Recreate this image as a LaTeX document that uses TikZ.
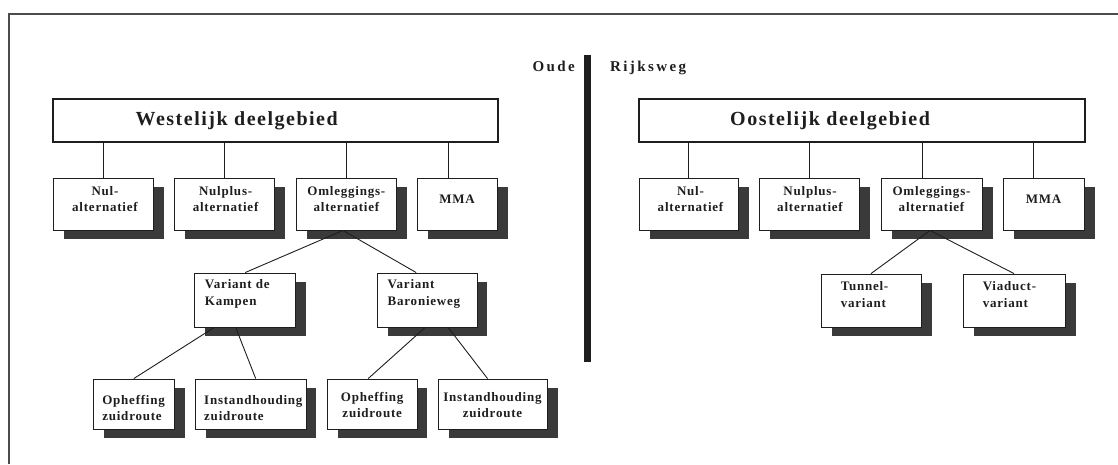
\documentclass[tikz,border=0pt]{standalone}
\usepackage{fontspec}
\usetikzlibrary{shadows}
\setmainfont{Liberation Serif}
\newfontfamily\headfont[LetterSpace=7.5]{Liberation Serif}
\newfontfamily\roadfont[LetterSpace=16]{Liberation Serif}
\newfontfamily\boxfont[LetterSpace=6]{Liberation Serif}
\definecolor{shadowgray}{HTML}{3A3A3A}
\definecolor{ink}{HTML}{1E1E1E}
\tikzset{
  titlebox/.style={draw=ink,line width=2.2pt,fill=white,inner sep=0pt},
  titletext/.style={font=\headfont\bfseries\fontsize{20}{22}\selectfont,text=ink,inner sep=0pt,anchor=base west},
  altbox/.style={draw=ink,line width=0.9pt,fill=white,inner sep=0pt,
    drop shadow={shadow xshift=10.5pt,shadow yshift=-9pt,fill=shadowgray,opacity=1}},
  txt/.style={font=\boxfont\bfseries\fontsize{13}{16.5}\selectfont,text=ink,inner sep=0pt,align=center},
  ltxt/.style={txt,align=left,anchor=west},
  link/.style={draw=ink,line width=0.9pt},
  roadlabel/.style={font=\roadfont\bfseries\fontsize{15}{17}\selectfont,text=ink,inner sep=0pt}
}
\begin{document}
\begin{tikzpicture}[x=1pt,y=-1pt]
\useasboundingbox (0,0) rectangle (1118,464);
% frame
\coordinate (fbl) at (9,464);
\coordinate (ftl) at (9,14);
\coordinate (ftr) at (1118,14);
\draw[draw=black!70,line width=1.2pt] (fbl) -- (ftl) -- (ftr);
% divider
\fill[ink] (584,55) rectangle (591,362);
\node[roadlabel,anchor=base east] (oude) at (575,71) {Oude};
\node[roadlabel,anchor=base west] (rijks) at (610,71) {Rijksweg};

% ---------------- west
\node[titlebox,minimum width=445pt,minimum height=43pt] (WT) at (275.5,120.5) {};
\node[titletext] (WTt) at (135.5,125) {Westelijk deelgebied};
\node[altbox,minimum width=100pt,minimum height=52pt] (w1) at (103,204) {};
\node[altbox,minimum width=100.5pt,minimum height=52pt] (w2) at (224.6,204) {};
\node[altbox,minimum width=100pt,minimum height=52pt] (w3) at (346.4,204) {};
\node[altbox,minimum width=80pt,minimum height=52pt] (w4) at (457,204) {};
\node[txt] (w1t) at ([xshift=2pt,yshift=5pt]w1.center) {Nul-\\alternatief};
\node[txt] (w2t) at ([xshift=1pt,yshift=5pt]w2.center) {Nulplus-\\alternatief};
\node[txt] (w3t) at ([yshift=5pt]w3.center) {Omleggings-\\alternatief};
\node[txt] (w4t) at ([yshift=5pt]w4.center) {MMA};

\node[altbox,minimum width=101pt,minimum height=54pt] (wk) at (245.2,300) {};
\node[altbox,minimum width=99.5pt,minimum height=54pt] (wb) at (427.2,300) {};
\node[ltxt] (wkt) at ([xshift=10.5pt,yshift=6pt]wk.west) {Variant de\\Kampen};
\node[ltxt] (wbt) at ([xshift=10.5pt,yshift=6pt]wb.west) {Variant\\Baronieweg};

\node[altbox,minimum width=80.5pt,minimum height=50pt] (o1) at (133.8,404) {};
\node[altbox,minimum width=110.5pt,minimum height=50pt] (i1) at (250.7,404) {};
\node[altbox,minimum width=89.5pt,minimum height=50pt] (o2) at (372.2,404) {};
\node[altbox,minimum width=109pt,minimum height=50pt] (i2) at (492.5,404) {};
\node[ltxt] (o1t) at ([xshift=9pt,yshift=-4pt]o1.west) {Opheffing\\zuidroute};
\node[ltxt] (i1t) at ([xshift=9pt,yshift=-4pt]i1.west) {Instandhouding\\zuidroute};
\node[txt] (o2t) at ([yshift=-1pt]o2.center) {Opheffing\\zuidroute};
\node[txt] (i2t) at ([yshift=-1pt]i2.center) {Instandhouding\\zuidroute};

\draw[link] (w1.north) -- (w1.north |- WT.south);
\draw[link] (w2.north) -- (w2.north |- WT.south);
\draw[link] (w3.north) -- (w3.north |- WT.south);
\draw[link] ([xshift=-9pt]w4.north) -- ([xshift=-9pt]w4.north |- WT.south);
\draw[link] ([xshift=-3.4pt]w3.south) -- (wk.north);
\draw[link] ([xshift=-3.4pt]w3.south) -- ([xshift=-11pt]wb.north);
\draw[link] ([xshift=-31pt]wk.south) -- (o1.north);
\draw[link] ([xshift=-9.5pt]wk.south) -- ([xshift=5pt]i1.north);
\draw[link] ([xshift=-2pt]wb.south) -- ([xshift=-4pt]o2.north);
\draw[link] ([xshift=21pt]wb.south) -- ([xshift=-5pt]i2.north);

% ---------------- east
\node[titlebox,minimum width=446pt,minimum height=43pt] (ET) at (862,120.5) {};
\node[titletext] (ETt) at (730,125) {Oostelijk deelgebied};
\node[altbox,minimum width=99pt,minimum height=52pt] (e1) at (688.5,204) {};
\node[altbox,minimum width=100pt,minimum height=52pt] (e2) at (809,204) {};
\node[altbox,minimum width=101pt,minimum height=52pt] (e3) at (931.5,204) {};
\node[altbox,minimum width=81pt,minimum height=52pt] (e4) at (1043.5,204) {};
\node[txt] (e1t) at ([xshift=2pt,yshift=5pt]e1.center) {Nul-\\alternatief};
\node[txt] (e2t) at ([xshift=1pt,yshift=5pt]e2.center) {Nulplus-\\alternatief};
\node[txt] (e3t) at ([yshift=5pt]e3.center) {Omleggings-\\alternatief};
\node[txt] (e4t) at ([yshift=5pt]e4.center) {MMA};

\node[altbox,minimum width=100pt,minimum height=53pt] (et) at (871,300.5) {};
\node[altbox,minimum width=102pt,minimum height=53pt] (ev) at (1014,300.5) {};
\node[ltxt] (ett) at ([xshift=20pt,yshift=6pt]et.west) {Tunnel-\\variant};
\node[ltxt] (evt) at ([xshift=20pt,yshift=6pt]ev.west) {Viaduct-\\variant};

\draw[link] (e1.north) -- (e1.north |- ET.south);
\draw[link] (e2.north) -- (e2.north |- ET.south);
\draw[link] ([xshift=-9.5pt]e3.north) -- ([xshift=-9.5pt]e3.north |- ET.south);
\draw[link] ([xshift=-10.5pt]e4.north) -- ([xshift=-10.5pt]e4.north |- ET.south);
\draw[link] ([xshift=-1.5pt]e3.south) -- (et.north);
\draw[link] ([xshift=-1.5pt]e3.south) -- (ev.north);
\end{tikzpicture}
\end{document}
